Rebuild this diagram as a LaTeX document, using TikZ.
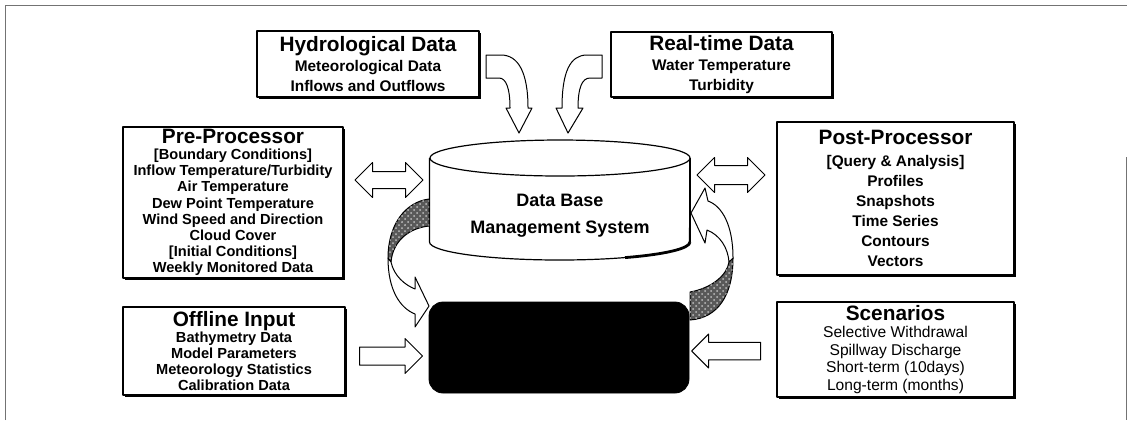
\documentclass[tikz,border=0pt]{standalone}
\usepackage{fontspec}
\setmainfont{Liberation Sans}
\usetikzlibrary{shapes.arrows,shadows,patterns}
\newcommand{\boxtitle}[1]{{\fontsize{10.4}{12}\selectfont\bfseries #1}}

\begin{document}
\begin{tikzpicture}[x=0.5pt,y=-0.5pt,line join=round,
  infobox/.style={draw,line width=0.6pt,fill=white,align=center,inner sep=0pt,
    drop shadow={shadow xshift=0.8pt,shadow yshift=-0.8pt,opacity=1,fill=black}},
  blockarrow/.style={draw,line width=0.5pt,fill=white,inner sep=4pt,minimum width=17pt},
  bentarrow/.style={draw,line width=0.5pt,fill=white},
  twist/.style={draw,line width=0.5pt,fill=black!65,postaction={pattern=crosshatch dots,pattern color=black!25}}]
\useasboundingbox (0,0) rectangle (1127,420);
\draw[black!55,line width=0.4pt] (5,420) -- (5,5) -- (1127,5);
\draw[black!55,line width=0.4pt] (1126,157) -- (1126,420);

% source boxes
\node[infobox,minimum width=111pt,minimum height=33pt,font=\fontsize{7.7}{10}\selectfont\bfseries] (hydro) at (368,64)
  {\boxtitle{Hydrological Data}\\ Meteorological Data\\ Inflows and Outflows};
\node[infobox,minimum width=110.5pt,minimum height=32.5pt,font=\fontsize{7.7}{10}\selectfont\bfseries] (realtime) at (721.5,64.5)
  {\boxtitle{Real-time Data}\\ Water Temperature\\ Turbidity};
\node[infobox,minimum width=110pt,minimum height=75.5pt,font=\fontsize{7.3}{8.1}\selectfont\bfseries] (pre) at (233,202.5)
  {\boxtitle{Pre-Processor}\\{}[Boundary Conditions]\\ Inflow Temperature/Turbidity\\ Air Temperature\\
   Dew Point Temperature\\ Wind Speed and Direction\\ Cloud Cover\\{}[Initial Conditions]\\ Weekly Monitored Data};
\node[infobox,minimum width=111pt,minimum height=44pt,font=\fontsize{7.3}{8}\selectfont\bfseries] (offline) at (234,351)
  {\boxtitle{Offline Input}\\ Bathymetry Data\\ Model Parameters\\ Meteorology Statistics\\ Calibration Data};
\node[infobox,minimum width=118.5pt,minimum height=76.5pt,font=\fontsize{7.7}{10}\selectfont\bfseries] (post) at (895.5,198.5)
  {\boxtitle{Post-Processor}\\[1pt]{}[Query \& Analysis]\\ Profiles\\ Snapshots\\ Time Series\\ Contours\\ Vectors};
\node[infobox,minimum width=118.5pt,minimum height=47.5pt,font=\fontsize{7.8}{8.75}\selectfont] (scen) at (895.5,349.5)
  {\boxtitle{Scenarios}\\ Selective Withdrawal\\ Spillway Discharge\\ Short-term (10days)\\ Long-term (months)};

% data base cylinder
\coordinate (dbtl) at (429.5,158);
\coordinate (dbbl) at (429.5,242);
\coordinate (dbbr) at (690,242);
\coordinate (dbtr) at (690,158);
\draw[fill=white,line width=0.6pt] (dbtl) -- (dbbl) arc (180:360:65pt and 9pt) -- (dbtr);
\draw[line width=1.4pt] (dbbr) arc (360:300:65pt and 9pt);
\draw[line width=1.4pt] (dbtr) -- (dbbr);
\draw[fill=white,line width=0.6pt] (560,158) ellipse (65pt and 9pt);
\node[font=\fontsize{9}{13.5}\selectfont\bfseries,align=center] (db) at (560,216) {Data Base\\ Management System};

% model block
\node[draw,fill=black,rounded corners=7pt,minimum width=130pt,minimum height=45.5pt] (model) at (559,347.5) {};

% straight block arrows
\node[blockarrow,double arrow,double arrow head extend=4.5pt,minimum height=34pt] (prearrow) at (389,180) {};
\node[blockarrow,double arrow,double arrow head extend=4pt,inner sep=4.5pt,minimum height=34pt] (postarrow) at (731,175) {};
\node[blockarrow,single arrow,single arrow head extend=4.25pt,inner sep=4.25pt,minimum height=31.5pt] (offarrow) at (386.5,356) {};
\node[blockarrow,single arrow,shape border rotate=180,single arrow head extend=4pt,minimum height=34.5pt] (scenarrow) at (730.5,351) {};

% bent arrows from the top boxes
\draw[bentarrow] (486,55) -- (501,55) .. controls (518,55) and (528,72) .. (528,108) -- (532,108) -- (519,133)
  -- (506,108) -- (510,108) .. controls (510,88) and (506,78) .. (499,78) -- (486,78) -- cycle;
\draw[bentarrow] (602,55) -- (587,55) .. controls (570,55) and (562,72) .. (562,108) -- (556,108) -- (568,133)
  -- (583,108) -- (578,108) .. controls (578,88) and (582,78) .. (590,78) -- (602,78) -- cycle;

% twisted arrows between data base and model
\draw[twist] (429,199) .. controls (405,202) and (388,225) .. (388,258) -- (391,262)
  .. controls (393,240) and (410,228) .. (429,226) -- cycle;
\draw[bentarrow] (388,258) .. controls (388,290) and (400,308) .. (415,314) -- (415,327) -- (429,306)
  -- (415,277) -- (415,289) .. controls (405,285) and (394,276) .. (391,262) -- cycle;
\draw[twist] (690,292) .. controls (712,288) and (727,275) .. (729,262) -- (733,258)
  .. controls (733,295) and (718,318) .. (690,320) -- cycle;
\draw[bentarrow] (733,258) .. controls (733,225) and (722,206) .. (708,201) -- (705,188) -- (691,213)
  -- (705,243) -- (707,230) .. controls (720,235) and (728,248) .. (729,262) -- cycle;
\end{tikzpicture}
\end{document}
